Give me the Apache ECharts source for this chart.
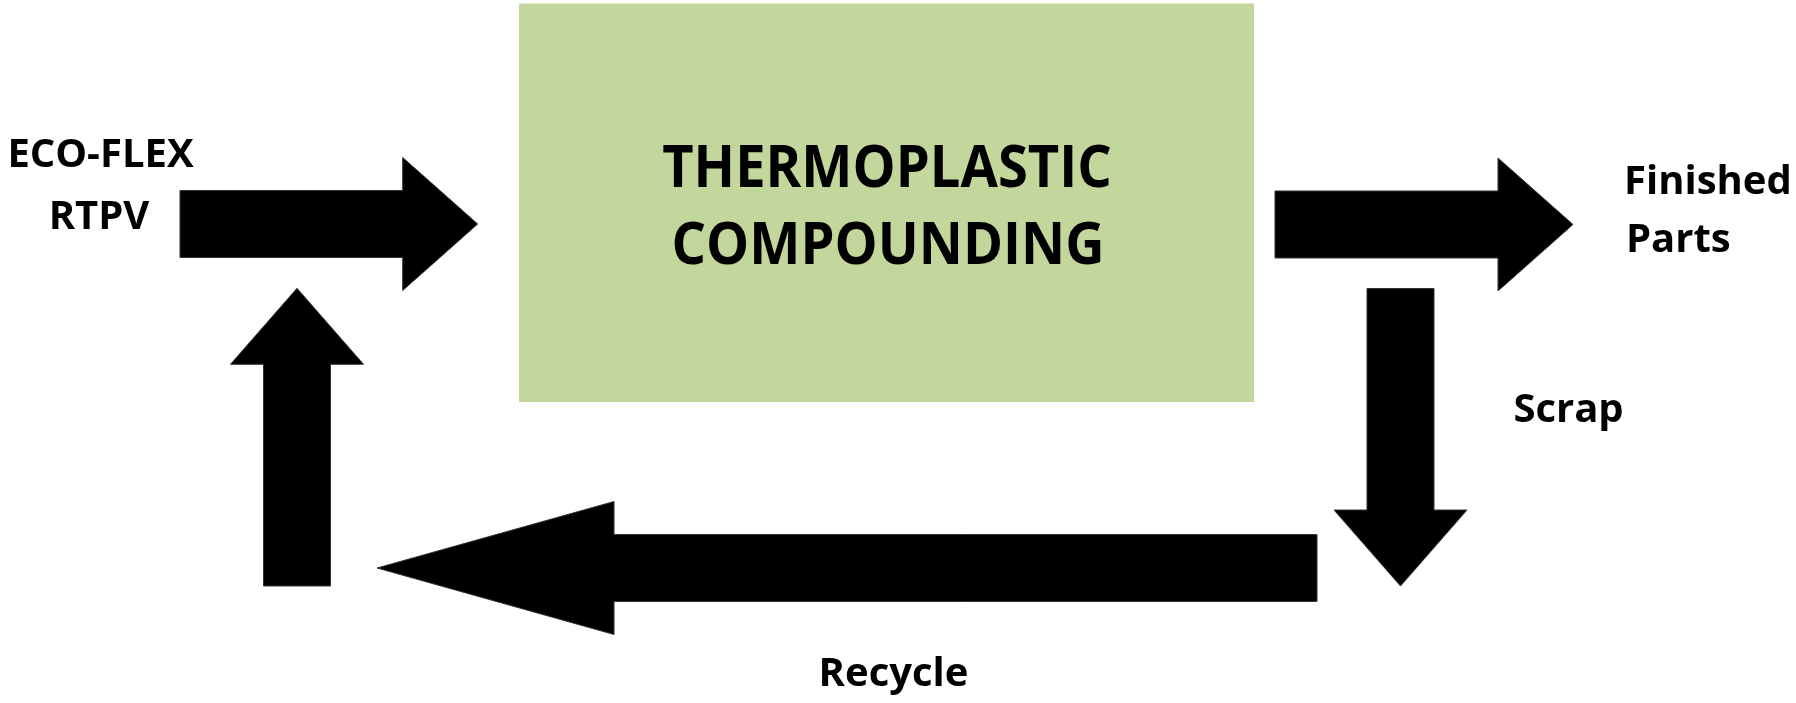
<!DOCTYPE html>
<html>
<head>
<meta charset="utf-8">
<script src="https://cdn.jsdelivr.net/npm/echarts@6/dist/echarts.min.js"></script>
<style>
html,body{margin:0;padding:0;background:#fff;}
#chart{width:1796px;height:703px;}
</style>
</head>
<body>
<div id="chart"></div>
<script>
// Diagram layout space (same units as the picture)
const boxCorners = [[519, 3.5, 1254, 402]];           // process box: x0, y0, x1, y1
const boxLabels = ['THERMOPLASTIC', 'COMPOUNDING'];
const boxLabelX = [887, 888];
const boxLabelY = [169.8, 246.8];

// Arrows: tail point -> tip point, head length
const arrowNames = ['feed', 'output', 'scrap', 'recycle', 'return'];
const arrowTailX = [180, 1275, 1400.5, 1317, 297];
const arrowTailY = [224, 224.5, 288.5, 568, 586];
const arrowTipX  = [477.7, 1573, 1400.5, 377, 297];
const arrowTipY  = [224, 224.5, 586, 568, 288.3];
const arrowHeadLen = [75, 75, 76, 237, 76];

// Side labels
const sideLabels = ['ECO-FLEX', 'RTPV', 'Finished', 'Parts', 'Scrap', 'Recycle'];
const sideLabelX = [100.5, 99, 1624, 1626, 1568.5, 893.5];
const sideLabelY = [155.6, 217.6, 182.6, 240.3, 410.6, 674.6];
const sideLabelAlign = ['center', 'center', 'left', 'left', 'center', 'center'];

const SHAFT_W = 67, HEAD_W = 133;
const FONT = '"Open Sans", "Noto Sans", sans-serif';

const chart = echarts.init(document.getElementById('chart'), null, {renderer: 'canvas'});

const arrowData = arrowNames.map((n, i) => [arrowTailX[i], arrowTailY[i], arrowTipX[i], arrowTipY[i], arrowHeadLen[i]]);
const boxLabelData = boxLabels.map((t, i) => [boxLabelX[i], boxLabelY[i], t]);
const sideLabelData = sideLabels.map((t, i) => [sideLabelX[i], sideLabelY[i], t, sideLabelAlign[i]]);

chart.setOption({
  animation: false,
  backgroundColor: '#ffffff',
  grid: {left: 0, right: 0, top: 0, bottom: 0},
  xAxis: {type: 'value', min: 0, max: 1796, show: false},
  yAxis: {type: 'value', min: 0, max: 703, inverse: true, show: false},
  series: [
    {
      type: 'custom',
      name: 'box',
      data: boxCorners,
      renderItem: function (params, api) {
        const p0 = api.coord([api.value(0), api.value(1)]);
        const p1 = api.coord([api.value(2), api.value(3)]);
        return {
          type: 'rect',
          shape: {x: p0[0], y: p0[1], width: p1[0] - p0[0], height: p1[1] - p0[1]},
          style: {fill: '#C3D69B'}
        };
      }
    },
    {
      type: 'custom',
      name: 'arrows',
      data: arrowData,
      renderItem: function (params, api) {
        const a = api.coord([api.value(0), api.value(1)]);
        const b = api.coord([api.value(2), api.value(3)]);
        const hl = api.size([api.value(4), 0])[0];
        const sw = api.size([SHAFT_W, 0])[0] / 2;
        const hw = api.size([HEAD_W, 0])[0] / 2;
        const dx = b[0] - a[0], dy = b[1] - a[1];
        const len = Math.sqrt(dx * dx + dy * dy);
        const ux = dx / len, uy = dy / len;
        const nx = -uy, ny = ux;
        const bx = b[0] - ux * hl, by = b[1] - uy * hl;
        const pts = [
          [a[0] + nx * sw, a[1] + ny * sw],
          [bx + nx * sw, by + ny * sw],
          [bx + nx * hw, by + ny * hw],
          [b[0], b[1]],
          [bx - nx * hw, by - ny * hw],
          [bx - nx * sw, by - ny * sw],
          [a[0] - nx * sw, a[1] - ny * sw]
        ];
        return {type: 'polygon', shape: {points: pts}, style: {fill: '#000000', stroke: '#333333', lineWidth: 1}};
      }
    },
    {
      type: 'custom',
      name: 'boxLabels',
      data: boxLabelData,
      renderItem: function (params, api) {
        const p = api.coord([api.value(0), api.value(1)]);
        return {
          type: 'text',
          x: p[0], y: p[1],
          scaleX: 0.92,
          style: {
            text: boxLabelData[params.dataIndex][2],
            fill: '#000000',
            fontFamily: FONT, fontWeight: 'bold', fontSize: 59,
            align: 'center', verticalAlign: 'middle'
          }
        };
      }
    },
    {
      type: 'custom',
      name: 'sideLabels',
      data: sideLabelData,
      renderItem: function (params, api) {
        const p = api.coord([api.value(0), api.value(1)]);
        const d = sideLabelData[params.dataIndex];
        return {
          type: 'text',
          x: p[0], y: p[1],
          style: {
            text: d[2],
            fill: '#000000',
            fontFamily: FONT, fontWeight: 'bold', fontSize: 40,
            align: d[3], verticalAlign: 'middle'
          }
        };
      }
    }
  ]
});
</script>
</body>
</html>
